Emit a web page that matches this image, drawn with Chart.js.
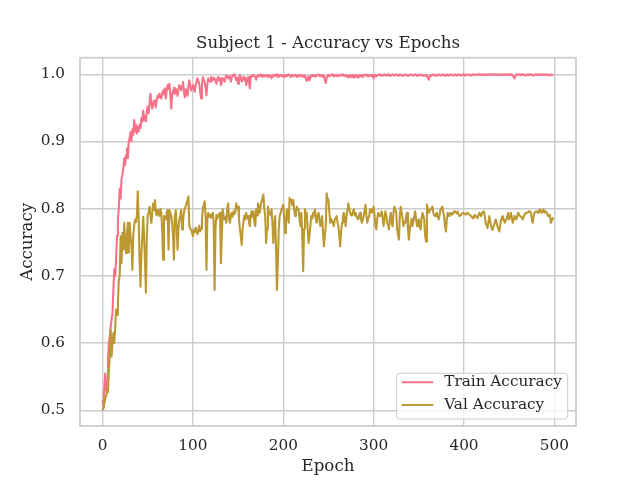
<!DOCTYPE html>
<html>
<head>
<meta charset="utf-8">
<script src="https://cdn.jsdelivr.net/npm/chart.js@4.4.1/dist/chart.umd.min.js"></script>
<style>
  html, body { margin: 0; padding: 0; background: #fff; }
  #chart { display: block; }
</style>
</head>
<body>
<canvas id="chart" width="640" height="480"></canvas>
<script>
// accuracy per epoch (epochs 0..499)
const trainAcc = [
  0.515, 0.505, 0.535, 0.555, 0.530, 0.545, 0.575, 0.600, 0.610, 0.625,
  0.635, 0.645, 0.680, 0.710, 0.700, 0.725, 0.760, 0.785, 0.800, 0.830,
  0.815, 0.845, 0.850, 0.860, 0.875, 0.865, 0.880, 0.890, 0.875, 0.900,
  0.905, 0.914, 0.900, 0.918, 0.910, 0.932, 0.915, 0.925, 0.912, 0.922,
  0.915, 0.925, 0.920, 0.935, 0.929, 0.946, 0.932, 0.938, 0.930, 0.945,
  0.952, 0.942, 0.956, 0.971, 0.958, 0.949, 0.955, 0.961, 0.958, 0.951,
  0.962, 0.968, 0.965, 0.971, 0.966, 0.964, 0.972, 0.976, 0.970, 0.979,
  0.964, 0.975, 0.984, 0.978, 0.986, 0.970, 0.949, 0.968, 0.976, 0.980,
  0.971, 0.979, 0.975, 0.968, 0.978, 0.984, 0.980, 0.976, 0.983, 0.989,
  0.975, 0.966, 0.978, 0.971, 0.968, 0.982, 0.991, 0.985, 0.976, 0.980,
  0.984, 0.978, 0.974, 0.984, 0.988, 0.994, 0.990, 0.986, 0.975, 0.964,
  0.985, 0.996, 0.992, 0.989, 0.980, 0.969, 0.985, 0.994, 0.990, 0.989,
  0.996, 0.993, 0.991, 0.995, 0.994, 0.990, 0.986, 0.993, 0.996, 0.991,
  0.994, 0.984, 0.990, 0.994, 0.992, 0.989, 0.995, 0.999, 0.996, 0.994,
  0.997, 0.996, 0.989, 0.995, 0.999, 0.998, 1.000, 0.996, 0.991, 0.995,
  0.986, 0.994, 0.999, 0.995, 0.989, 0.993, 0.996, 0.991, 0.995, 0.984,
  0.990, 0.996, 0.990, 0.979, 0.997, 0.998, 0.997, 0.999, 0.998, 0.996,
  0.992, 0.997, 0.999, 0.998, 0.997, 1.000, 0.998, 0.996, 0.999, 0.998,
  0.997, 0.999, 0.998, 0.996, 0.999, 0.997, 0.998, 0.994, 0.998, 0.999,
  0.997, 0.998, 1.000, 0.998, 0.996, 0.999, 0.997, 0.998, 0.999, 0.997,
  0.998, 0.996, 0.999, 0.998, 0.997, 0.999, 1.000, 0.998, 0.996, 0.998,
  0.999, 0.997, 0.998, 0.999, 0.998, 0.996, 0.998, 0.999, 0.997, 0.998,
  0.999, 0.997, 0.998, 0.996, 0.998, 0.994, 0.990, 0.993, 0.997, 0.991,
  0.995, 0.998, 0.999, 0.997, 0.998, 0.999, 0.997, 0.998, 0.999, 1.000,
  0.998, 0.997, 0.999, 0.998, 0.996, 0.998, 0.992, 0.987, 0.995, 0.998,
  0.999, 0.997, 0.998, 0.999, 1.000, 0.998, 0.997, 0.999, 0.998, 0.999,
  0.997, 0.998, 0.999, 0.998, 0.999, 1.000, 0.998, 0.999, 0.998, 0.997,
  0.999, 0.998, 0.995, 0.997, 0.999, 0.996, 0.998, 0.999, 0.995, 0.997,
  0.999, 0.996, 0.998, 0.995, 0.999, 0.997, 0.998, 0.999, 0.996, 0.998,
  0.999, 1.000, 0.998, 0.999, 0.997, 0.998, 0.999, 0.998, 0.997, 0.999,
  0.994, 0.998, 0.999, 0.997, 0.998, 0.999, 1.000, 0.999, 0.998, 0.999,
  0.998, 0.999, 1.000, 0.999, 0.998, 0.999, 1.000, 0.998, 0.999, 0.998,
  0.999, 1.000, 0.999, 0.998, 0.999, 1.000, 0.999, 0.998, 0.999, 1.000,
  0.999, 0.998, 0.999, 0.998, 0.999, 1.000, 0.999, 0.998, 0.999, 0.998,
  0.999, 1.000, 0.999, 0.999, 0.998, 0.999, 1.000, 0.999, 0.998, 0.999,
  0.998, 0.999, 1.000, 0.999, 0.998, 0.999, 0.998, 0.999, 0.998, 0.997,
  0.995, 0.992, 0.997, 0.999, 0.998, 0.999, 1.000, 0.999, 0.998, 0.999,
  0.998, 0.999, 1.000, 0.999, 0.999, 0.998, 0.999, 1.000, 0.999, 0.998,
  0.999, 1.000, 0.999, 0.998, 0.999, 1.000, 0.999, 0.999, 0.998, 0.999,
  1.000, 0.999, 0.998, 0.999, 1.000, 0.999, 0.999, 0.998, 0.999, 1.000,
  0.999, 0.998, 0.999, 1.000, 0.999, 0.999, 1.000, 0.999, 0.998, 0.999,
  1.000, 1.000, 0.999, 0.999, 1.000, 0.999, 1.000, 1.000, 0.999, 1.000,
  0.999, 1.000, 1.000, 0.999, 1.000, 1.000, 0.999, 1.000, 1.000, 0.999,
  1.000, 1.000, 0.999, 1.000, 0.999, 1.000, 1.000, 0.999, 1.000, 1.000,
  0.999, 1.000, 1.000, 0.999, 1.000, 0.999, 1.000, 1.000, 0.999, 1.000,
  1.000, 0.999, 1.000, 1.000, 0.998, 0.996, 0.994, 0.998, 1.000, 0.999,
  1.000, 1.000, 0.999, 1.000, 0.999, 1.000, 1.000, 0.999, 0.998, 0.999,
  1.000, 0.999, 1.000, 1.000, 0.999, 1.000, 0.999, 0.998, 0.999, 1.000,
  1.000, 0.999, 1.000, 0.999, 1.000, 1.000, 0.999, 1.000, 0.999, 1.000,
  0.999, 1.000, 1.000, 0.999, 0.998, 0.999, 1.000, 0.999, 0.999, 0.999
];

const valAcc = [
  0.500, 0.503, 0.510, 0.518, 0.521, 0.531, 0.527, 0.560, 0.580, 0.620,
  0.580, 0.598, 0.615, 0.600, 0.625, 0.650, 0.642, 0.660, 0.694, 0.699,
  0.759, 0.719, 0.764, 0.739, 0.779, 0.750, 0.734, 0.760, 0.779, 0.735,
  0.779, 0.759, 0.745, 0.709, 0.760, 0.775, 0.784, 0.780, 0.790, 0.826,
  0.784, 0.720, 0.684, 0.734, 0.759, 0.788, 0.759, 0.720, 0.675, 0.759,
  0.790, 0.794, 0.803, 0.790, 0.779, 0.794, 0.808, 0.798, 0.813, 0.794,
  0.790, 0.798, 0.795, 0.789, 0.800, 0.794, 0.769, 0.724, 0.789, 0.786,
  0.784, 0.795, 0.798, 0.739, 0.798, 0.794, 0.790, 0.779, 0.760, 0.724,
  0.789, 0.798, 0.775, 0.739, 0.770, 0.784, 0.790, 0.798, 0.769, 0.780,
  0.794, 0.800, 0.803, 0.808, 0.813, 0.818, 0.775, 0.770, 0.769, 0.765,
  0.759, 0.769, 0.765, 0.772, 0.768, 0.762, 0.768, 0.775, 0.766, 0.770,
  0.784, 0.800, 0.806, 0.811, 0.790, 0.709, 0.785, 0.794, 0.788, 0.791,
  0.786, 0.792, 0.794, 0.780, 0.679, 0.770, 0.791, 0.785, 0.789, 0.792,
  0.794, 0.719, 0.760, 0.799, 0.790, 0.784, 0.788, 0.779, 0.800, 0.808,
  0.785, 0.779, 0.790, 0.794, 0.788, 0.796, 0.792, 0.796, 0.808, 0.800,
  0.803, 0.785, 0.769, 0.760, 0.746, 0.770, 0.781, 0.790, 0.784, 0.794,
  0.786, 0.789, 0.780, 0.774, 0.790, 0.796, 0.788, 0.796, 0.780, 0.774,
  0.799, 0.790, 0.808, 0.800, 0.794, 0.805, 0.811, 0.816, 0.821, 0.800,
  0.789, 0.749, 0.770, 0.803, 0.795, 0.794, 0.790, 0.799, 0.780, 0.749,
  0.775, 0.789, 0.740, 0.679, 0.720, 0.769, 0.789, 0.793, 0.799, 0.802,
  0.806, 0.785, 0.764, 0.780, 0.799, 0.790, 0.779, 0.816, 0.810, 0.813,
  0.805, 0.813, 0.800, 0.789, 0.795, 0.803, 0.798, 0.799, 0.785, 0.774,
  0.794, 0.760, 0.707, 0.770, 0.799, 0.790, 0.794, 0.770, 0.749, 0.760,
  0.774, 0.789, 0.785, 0.794, 0.790, 0.799, 0.785, 0.779, 0.790, 0.794,
  0.785, 0.774, 0.780, 0.789, 0.765, 0.744, 0.760, 0.774, 0.823, 0.815,
  0.813, 0.795, 0.779, 0.785, 0.781, 0.778, 0.774, 0.784, 0.786, 0.789,
  0.780, 0.774, 0.760, 0.744, 0.765, 0.779, 0.788, 0.794, 0.785, 0.774,
  0.789, 0.798, 0.808, 0.800, 0.794, 0.790, 0.791, 0.795, 0.799, 0.790,
  0.794, 0.789, 0.786, 0.784, 0.790, 0.794, 0.785, 0.779, 0.784, 0.789,
  0.798, 0.806, 0.790, 0.779, 0.785, 0.789, 0.799, 0.795, 0.794, 0.798,
  0.803, 0.790, 0.775, 0.769, 0.785, 0.794, 0.790, 0.789, 0.792, 0.796,
  0.785, 0.774, 0.786, 0.796, 0.790, 0.779, 0.775, 0.769, 0.785, 0.794,
  0.780, 0.774, 0.795, 0.803, 0.798, 0.796, 0.769, 0.760, 0.754, 0.790,
  0.803, 0.794, 0.785, 0.774, 0.780, 0.779, 0.789, 0.794, 0.770, 0.754,
  0.770, 0.779, 0.785, 0.774, 0.781, 0.789, 0.796, 0.785, 0.774, 0.780,
  0.784, 0.775, 0.769, 0.785, 0.794, 0.790, 0.784, 0.760, 0.751, 0.806,
  0.800, 0.794, 0.797, 0.799, 0.801, 0.803, 0.794, 0.790, 0.789, 0.792,
  0.794, 0.788, 0.784, 0.790, 0.799, 0.801, 0.803, 0.795, 0.789, 0.775,
  0.766, 0.785, 0.794, 0.790, 0.789, 0.794, 0.792, 0.791, 0.794, 0.796,
  0.795, 0.794, 0.793, 0.796, 0.792, 0.789, 0.790, 0.791, 0.793, 0.794,
  0.794, 0.792, 0.791, 0.793, 0.794, 0.792, 0.791, 0.790, 0.789, 0.787,
  0.786, 0.789, 0.791, 0.789, 0.788, 0.786, 0.790, 0.794, 0.791, 0.789,
  0.794, 0.795, 0.796, 0.788, 0.779, 0.775, 0.771, 0.780, 0.789, 0.781,
  0.774, 0.769, 0.772, 0.774, 0.779, 0.784, 0.780, 0.774, 0.770, 0.766,
  0.775, 0.784, 0.787, 0.789, 0.784, 0.779, 0.782, 0.784, 0.789, 0.794,
  0.784, 0.788, 0.794, 0.786, 0.779, 0.784, 0.789, 0.786, 0.784, 0.790,
  0.794, 0.791, 0.789, 0.789, 0.787, 0.784, 0.788, 0.791, 0.793, 0.794,
  0.794, 0.795, 0.796, 0.795, 0.794, 0.786, 0.779, 0.788, 0.794, 0.795,
  0.796, 0.795, 0.794, 0.797, 0.799, 0.796, 0.794, 0.797, 0.799, 0.794,
  0.795, 0.796, 0.793, 0.789, 0.790, 0.791, 0.779, 0.782, 0.786, 0.784
];

const xTicks = [0, 100, 200, 300, 400, 500];
const yTicks = [0.5, 0.6, 0.7, 0.8, 0.9, 1.0];
const epochs = trainAcc.map((_, i) => i);

const SERIF = "'DejaVu Serif', serif";
const TEXT = '#262626';
const GRID = '#cccccc';

Chart.defaults.font.family = SERIF;
Chart.defaults.color = TEXT;

// axes frame on all four sides, drawn over the lines like matplotlib spines
const framePlugin = {
  id: 'frame',
  afterDatasetsDraw(chart) {
    const { ctx, chartArea: a } = chart;
    ctx.save();
    ctx.strokeStyle = GRID;
    ctx.lineWidth = 1.74;
    ctx.strokeRect(a.left, a.top, a.right - a.left, a.bottom - a.top);
    ctx.restore();
  }
};

// legend box in the lower right corner of the plot area
const boxLegend = {
  id: 'boxLegend',
  afterDraw(chart) {
    const { ctx, chartArea: a } = chart;
    const sets = chart.data.datasets;
    const fs = 15.28;
    const w = 171, h = 45.7;
    const x = a.right - 8.3 - w;
    const y = a.bottom - 7 - h;
    ctx.save();
    ctx.beginPath();
    ctx.roundRect(x, y, w, h, 3);
    ctx.fillStyle = 'rgba(255,255,255,0.8)';
    ctx.fill();
    ctx.strokeStyle = GRID;
    ctx.lineWidth = 1;
    ctx.stroke();
    ctx.font = fs + 'px ' + SERIF;
    ctx.textBaseline = 'middle';
    ctx.fillStyle = TEXT;
    sets.forEach((ds, i) => {
      const ly = y + 9 + i * 22.7;
      ctx.beginPath();
      ctx.moveTo(x + 5, ly);
      ctx.lineTo(x + 36.6, ly);
      ctx.strokeStyle = ds.borderColor;
      ctx.lineWidth = 2.08;
      ctx.stroke();
      ctx.fillText(ds.label, x + 47.5, ly);
    });
    ctx.restore();
  }
};

new Chart(document.getElementById('chart'), {
  type: 'line',
  data: {
    labels: epochs,
    datasets: [
      {
        label: 'Train Accuracy',
        data: trainAcc,
        borderColor: '#f77189',
        borderWidth: 2.08,
        pointRadius: 0,
        tension: 0,
        borderJoinStyle: 'round',
        order: 1
      },
      {
        label: 'Val Accuracy',
        data: valAcc,
        borderColor: '#bb9832',
        borderWidth: 2.08,
        pointRadius: 0,
        tension: 0,
        borderJoinStyle: 'round',
        order: 0
      }
    ]
  },
  options: {
    responsive: false,
    animation: false,
    layout: { padding: { left: 0, right: 64, top: 0, bottom: 0 } },
    plugins: {
      legend: { display: false },
      tooltip: { enabled: false },
      title: {
        display: true,
        fullSize: false,
        text: 'Subject 1 - Accuracy vs Epochs',
        color: TEXT,
        font: { family: SERIF, size: 16.67, weight: 'normal' },
        padding: { top: 33.5, bottom: 4.2 }
      }
    },
    scales: {
      x: {
        type: 'linear',
        min: -24.95,
        max: 523.95,
        afterBuildTicks: s => { s.ticks = xTicks.map(v => ({ value: v })); },
        afterFit: s => { s.height = 54; },
        grid: { color: GRID, lineWidth: 1.39, drawTicks: false },
        border: { display: false },
        ticks: {
          padding: 11,
          color: TEXT,
          font: { size: 15.28 },
          maxRotation: 0,
          callback: v => String(v)
        },
        title: {
          display: true,
          text: 'Epoch',
          color: TEXT,
          font: { size: 16.67 },
          padding: { top: 0, bottom: 3 }
        }
      },
      y: {
        min: 0.4766,
        max: 1.0247,
        afterBuildTicks: s => { s.ticks = yTicks.map(v => ({ value: v })); },
        afterFit: s => { s.width = 80; },
        grid: { color: GRID, lineWidth: 1.39, drawTicks: false },
        border: { display: false },
        ticks: {
          padding: 15,
          color: TEXT,
          font: { size: 15.28 },
          callback: v => v.toFixed(1)
        },
        title: {
          display: true,
          text: 'Accuracy',
          color: TEXT,
          font: { size: 16.67 },
          padding: { top: 18, bottom: 0 }
        }
      }
    }
  },
  plugins: [framePlugin, boxLegend]
});
</script>
</body>
</html>
